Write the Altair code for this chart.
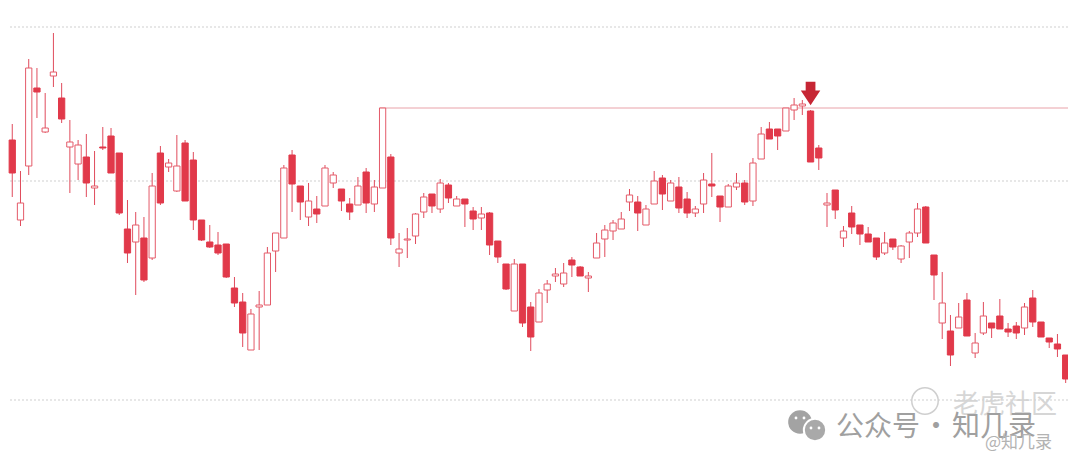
import altair as alt
import pandas as pd

# ---- candle data (price units) ----
opens = [
    36.4, 32.7, 24.7, 30.1, 37.9, 33.5, 39.1, 36.9, 32.0, 30.3,
    31.0, 27.9, 32.0, 33.1, 31.4, 23.8, 22.5, 22.9, 20.9, 31.4,
    30.0, 27.6, 32.4, 30.7, 24.7, 22.5, 22.2, 22.3, 17.9, 16.5,
    11.7, 16.0, 16.2, 21.6, 22.9, 31.2, 28.1, 25.0, 25.8, 26.1,
    28.4, 27.8, 26.3, 26.2, 29.5, 26.3, 27.9, 31.0, 21.4, 22.7,
    23.1, 25.5, 27.3, 25.8, 28.2, 26.1, 26.8, 25.6, 24.9, 25.4,
    22.6, 20.3, 15.6, 20.3, 16.0, 14.5, 17.7, 19.1, 18.3, 20.7,
    20.0, 18.9, 20.9, 22.8, 23.6, 23.8, 26.5, 26.5, 24.2, 26.3,
    28.9, 26.6, 28.0, 26.8, 25.4, 26.3, 28.3, 27.1, 26.0, 28.0,
    28.4, 26.6, 30.8, 33.8, 33.8, 33.6, 35.7, 36.1, 35.6, 31.9,
    26.2, 27.7, 22.9, 25.4, 24.2, 23.3, 22.9, 21.4, 22.8, 20.8,
    22.5, 23.4, 26.0, 21.2, 14.4, 13.6, 13.9, 16.7, 11.4, 13.4,
    14.4, 15.1, 13.8, 14.1, 13.9, 16.9, 14.5, 12.9, 12.3, 11.2,
    7.0,
]
closes = [
    31.9, 29.4, 26.4, 39.9, 37.5, 33.9, 39.5, 34.8, 32.5, 32.2,
    28.4, 28.1, 31.9, 29.4, 25.4, 21.4, 24.2, 18.7, 28.1, 26.4,
    30.4, 30.1, 26.6, 24.7, 22.7, 22.0, 21.4, 19.0, 16.4, 13.4,
    15.3, 16.2, 21.4, 23.4, 29.9, 28.3, 26.5, 26.6, 25.3, 29.9,
    29.2, 26.6, 25.5, 28.1, 26.4, 28.0, 35.9, 22.9, 21.8, 22.8,
    25.3, 27.0, 26.1, 28.4, 26.9, 26.8, 26.3, 24.8, 25.3, 22.2,
    21.0, 17.8, 20.3, 14.4, 13.0, 17.4, 18.3, 19.3, 19.4, 20.2,
    19.1, 19.1, 22.4, 23.7, 24.4, 24.8, 27.2, 25.4, 25.8, 28.6,
    27.3, 28.4, 25.9, 25.4, 25.8, 28.7, 28.1, 26.0, 28.1, 28.4,
    26.5, 30.4, 33.3, 32.8, 33.1, 35.9, 36.2, 36.3, 30.5, 30.9,
    26.4, 25.7, 23.6, 24.0, 23.3, 22.5, 21.0, 22.4, 22.0, 22.1,
    23.4, 25.8, 22.4, 19.2, 16.4, 11.2, 15.0, 13.1, 12.4, 15.1,
    13.9, 13.8, 13.5, 13.4, 16.0, 14.5, 13.0, 12.5, 11.8, 8.8,
    8.6,
]
highs = [
    44.0, 34.3, 29.6, 40.8, 39.9, 37.4, 43.4, 38.4, 34.7, 32.7,
    33.3, 31.6, 34.0, 33.9, 31.4, 26.7, 25.5, 25.0, 29.4, 32.1,
    30.8, 33.2, 32.7, 31.5, 24.7, 24.2, 23.5, 22.3, 19.0, 17.4,
    15.8, 17.6, 22.0, 23.4, 30.2, 31.7, 28.1, 28.4, 27.1, 30.2,
    29.5, 27.8, 26.9, 29.0, 29.9, 28.7, 35.9, 31.3, 23.4, 23.9,
    25.4, 27.4, 27.3, 28.8, 28.4, 27.1, 26.8, 26.0, 26.0, 25.5,
    22.6, 20.3, 20.8, 20.3, 16.5, 17.8, 18.7, 19.9, 20.4, 21.0,
    20.1, 19.5, 23.4, 24.2, 24.7, 25.5, 27.8, 27.1, 26.2, 29.6,
    29.2, 28.7, 29.0, 27.5, 26.1, 29.4, 31.4, 27.1, 28.3, 29.4,
    28.7, 30.9, 34.0, 34.5, 33.8, 35.9, 36.9, 36.7, 35.7, 32.2,
    27.4, 27.7, 24.1, 26.1, 24.2, 24.0, 22.9, 23.5, 22.8, 22.2,
    23.6, 26.4, 26.1, 21.2, 19.5, 15.2, 16.4, 17.4, 13.4, 16.5,
    14.4, 16.8, 14.4, 14.5, 16.4, 17.7, 14.5, 12.9, 13.3, 11.2,
    9.9,
]
lows = [
    29.4, 27.0, 24.1, 29.2, 34.9, 33.4, 38.0, 34.4, 27.4, 28.7,
    27.0, 26.2, 31.7, 29.4, 25.2, 20.4, 17.2, 18.5, 20.7, 26.2,
    29.5, 27.5, 26.6, 23.7, 22.6, 21.9, 21.2, 18.9, 16.0, 12.0,
    11.7, 11.7, 16.2, 19.5, 22.9, 25.5, 24.7, 24.1, 24.4, 26.1,
    27.9, 25.6, 24.7, 26.2, 25.4, 25.5, 27.9, 22.2, 20.0, 20.9,
    22.3, 24.9, 25.4, 25.4, 26.4, 26.1, 24.0, 23.7, 23.7, 21.2,
    20.4, 17.7, 15.6, 14.0, 11.6, 14.5, 16.4, 18.5, 18.0, 19.0,
    19.1, 17.5, 20.9, 21.0, 22.7, 23.8, 25.6, 23.6, 24.2, 26.3,
    25.7, 26.6, 25.4, 24.9, 25.0, 25.4, 27.0, 24.5, 26.0, 27.7,
    26.2, 26.1, 30.8, 32.8, 31.7, 33.6, 34.7, 35.2, 30.5, 29.7,
    24.0, 24.8, 22.0, 23.3, 22.2, 22.5, 20.7, 21.2, 21.7, 20.4,
    20.9, 23.0, 22.4, 16.7, 12.8, 10.1, 13.9, 13.1, 10.9, 13.2,
    12.9, 13.8, 13.0, 12.8, 13.2, 14.0, 13.0, 11.9, 11.0, 8.4,
    6.7,
]

grid_levels = [44.0, 28.6, 6.7]
resistance_level = 35.9
resistance_start = 46      # candle index where the line begins
signal_index = 98          # candle marked with the arrow

RED = "#e1394a"
HOLLOW = "#e45a69"
WICK = "#e04b5c"

n = len(opens)
df = pd.DataFrame({"i": list(range(n)), "open": opens, "high": highs,
                   "low": lows, "close": closes})
df["up"] = df["close"] > df["open"]
df["top"] = df[["open", "close"]].max(axis=1)
df["bot"] = df[["open", "close"]].min(axis=1)
df["x0"] = df["i"] - 0.38
df["x1"] = df["i"] + 0.38

xs = alt.Scale(domain=[-0.49, 130.74], nice=False, zero=False)
ys = alt.Scale(domain=[0, 46.7], nice=False, zero=False)
X = lambda f: alt.X(f, type="quantitative", scale=xs, axis=None)
Y = lambda f: alt.Y(f, type="quantitative", scale=ys, axis=None)

grid = alt.Chart(pd.DataFrame({"level": grid_levels})).mark_rule(
    color="#cfcfcf", strokeDash=[2, 2], strokeWidth=1
).encode(y=Y("level"))

res_df = pd.DataFrame({"x": [resistance_start - 0.38], "y": [resistance_level]})
resistance = alt.Chart(res_df).mark_rule(color="#e9a2a9", strokeWidth=1).encode(
    x=X("x"), x2=alt.value(1080), y=Y("y")
)

wicks = alt.Chart(df).mark_rule(color=WICK, strokeWidth=1).encode(
    x=X("i"), y=Y("low"), y2=alt.Y2("high")
)

up_bodies = alt.Chart(df[df["up"]]).mark_rect(
    fill="white", stroke=HOLLOW, strokeWidth=1
).encode(x=X("x0"), x2=alt.X2("x1"), y=Y("bot"), y2=alt.Y2("top"))

down_bodies = alt.Chart(df[~df["up"]]).mark_rect(
    fill=RED, stroke=RED, strokeWidth=1
).encode(x=X("x0"), x2=alt.X2("x1"), y=Y("bot"), y2=alt.Y2("top"))

arrow_path = "M-0.5,-1.2 L0.5,-1.2 L0.5,-0.3 L1,-0.3 L0,1.2 L-1,-0.3 L-0.5,-0.3 Z"
arrow_df = pd.DataFrame({"i": [signal_index], "y": [highs[signal_index] + 1.65]})
arrow = alt.Chart(arrow_df).mark_point(
    shape=arrow_path, size=380, filled=True, color="#c62634", opacity=1, strokeWidth=0
).encode(x=X("i"), y=Y("y"))

one = pd.DataFrame({"k": [0]})
FONT = "Noto Sans CJK SC"

bubble_big = alt.Chart(one).mark_point(
    shape="circle", filled=True, color="#a3a3a3", opacity=1, size=560
).encode(x=alt.value(800), y=alt.value(422))
bubble_small = alt.Chart(one).mark_point(
    shape="circle", filled=True, fill="#a9a9a9", stroke="white", strokeWidth=2,
    opacity=1, size=500
).encode(x=alt.value(815), y=alt.value(430))
eyes_df = pd.DataFrame({"ex": [796, 804, 811, 819], "ey": [418, 418, 428, 428]})
eyes = alt.Chart(eyes_df).mark_point(
    shape="circle", filled=True, color="white", opacity=1, size=8
).encode(x=alt.X("ex:Q", scale=None), y=alt.Y("ey:Q", scale=None))

wm_main_a = alt.Chart(one).mark_text(
    text="公众号", font=FONT, fontSize=28, color="#a0a0a0",
    align="left", baseline="alphabetic"
).encode(x=alt.value(836), y=alt.value(436))
wm_dot = alt.Chart(one).mark_text(
    text="·", font=FONT, fontSize=28, color="#a0a0a0",
    align="center", baseline="alphabetic"
).encode(x=alt.value(936), y=alt.value(436))
wm_main_b = alt.Chart(one).mark_text(
    text="知几录", font=FONT, fontSize=28, color="#a0a0a0",
    align="left", baseline="alphabetic"
).encode(x=alt.value(952), y=alt.value(436))

wm_tiger = alt.Chart(one).mark_text(
    text="老虎社区", font=FONT, fontSize=26, color="#d2d2d2", opacity=0.9,
    align="left", baseline="alphabetic"
).encode(x=alt.value(953), y=alt.value(413))

wm_logo = alt.Chart(one).mark_point(
    shape="circle", filled=False, color="#cfcfcf", strokeWidth=1.5, size=700, opacity=1
).encode(x=alt.value(925), y=alt.value(401))

wm_handle = alt.Chart(one).mark_text(
    text="@知几录", font=FONT, fontSize=17, color="#b3b3b3",
    align="left", baseline="alphabetic"
).encode(x=alt.value(985), y=alt.value(448))

chart = alt.layer(
    grid, resistance, wicks, up_bodies, down_bodies, arrow,
    wm_logo, wm_tiger, bubble_big, bubble_small, eyes,
    wm_main_a, wm_dot, wm_main_b, wm_handle
).properties(
    width=1080, height=467,
    padding={"left": -8, "top": -8, "right": -12, "bottom": -12},
    autosize=alt.AutoSizeParams(type="none"),
    background="white",
).configure_view(strokeWidth=0)

chart.save("out.html", embed_options={"renderer": "svg", "actions": False})
